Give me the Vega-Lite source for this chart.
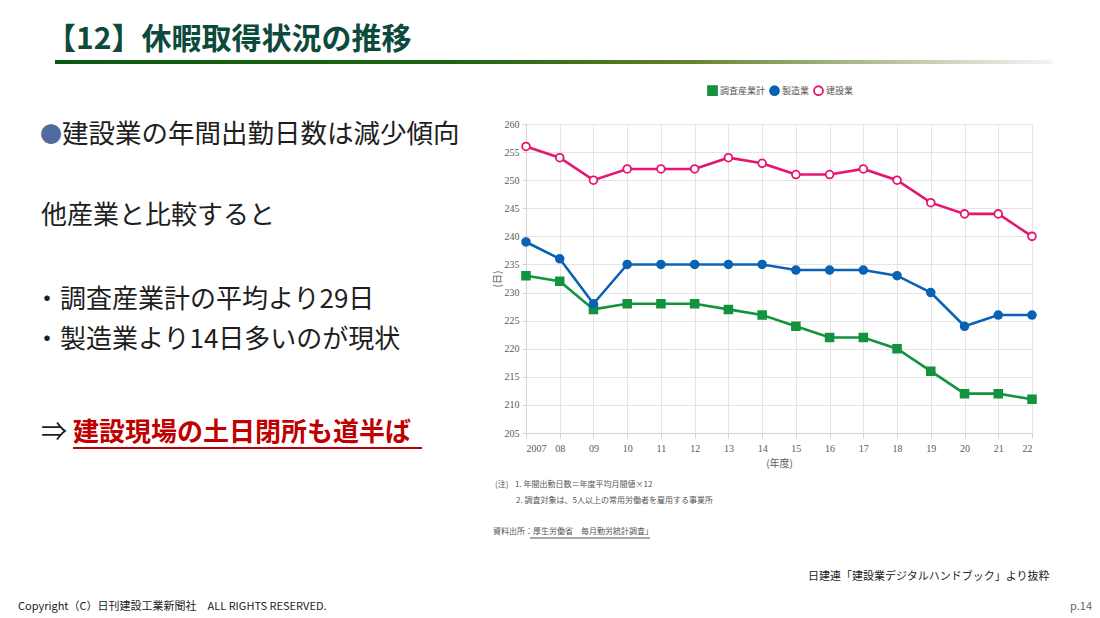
{
  "$schema": "https://vega.github.io/schema/vega-lite/v6.json",
  "background": "white",
  "padding": 0,
  "spacing": 0,
  "bounds": "flush",
  "center": true,
  "config": {
    "view": {"stroke": null},
    "font": "Noto Sans CJK JP",
    "concat": {"spacing": 0}
  },
  "hconcat": [
    {
      "width": 526,
      "height": 557,
      "layer": [
        {
          "data": {"values": [{"text": "【12】休暇取得状況の推移"}]},
          "mark": {"type": "text", "align": "left", "baseline": "middle", "fontSize": 30, "fontWeight": "bold", "color": "#0c4a3c"},
          "encoding": {
            "x": {"datum": 46, "type": "quantitative", "scale": {"domain": [0, 526], "nice": false, "zero": false}, "axis": null},
            "y": {"datum": 40, "type": "quantitative", "scale": {"domain": [0, 557], "nice": false, "zero": false, "reverse": true}, "axis": null},
            "text": {"field": "text"}
          }
        },
        {
          "data": {"values": [{"bar": "title underline"}]},
          "mark": {
            "type": "rect",
            "fill": {
              "gradient": "linear",
              "x1": 0, "y1": 0, "x2": 1, "y2": 0,
              "stops": [
                {"offset": 0, "color": "#0b5a12"},
                {"offset": 0.4, "color": "#1f6414"},
                {"offset": 0.62, "color": "#5f7d25"},
                {"offset": 0.8, "color": "#a9b98a"},
                {"offset": 1, "color": "#f4f4f4"}
              ]
            }
          },
          "encoding": {
            "x": {"datum": 55, "type": "quantitative"},
            "x2": {"datum": 1052},
            "y": {"datum": 60, "type": "quantitative"},
            "y2": {"datum": 64}
          }
        },
        {
          "data": {"values": [{"text": "●"}]},
          "mark": {"type": "text", "align": "left", "baseline": "middle", "fontSize": 22, "color": "#4f6c9c"},
          "encoding": {
            "x": {"datum": 40, "type": "quantitative"},
            "y": {"datum": 135, "type": "quantitative"},
            "text": {"field": "text"}
          }
        },
        {
          "data": {"values": [{"text": "建設業の年間出勤日数は減少傾向"}]},
          "mark": {"type": "text", "align": "left", "baseline": "middle", "fontSize": 26.5, "color": "#1e1e1e"},
          "encoding": {
            "x": {"datum": 62, "type": "quantitative"},
            "y": {"datum": 135, "type": "quantitative"},
            "text": {"field": "text"}
          }
        },
        {
          "data": {"values": [{"text": "他産業と比較すると"}]},
          "mark": {"type": "text", "align": "left", "baseline": "middle", "fontSize": 26, "color": "#1e1e1e"},
          "encoding": {
            "x": {"datum": 41, "type": "quantitative"},
            "y": {"datum": 216, "type": "quantitative"},
            "text": {"field": "text"}
          }
        },
        {
          "data": {"values": [{"text": "・調査産業計の平均より29日"}]},
          "mark": {"type": "text", "align": "left", "baseline": "middle", "fontSize": 26, "color": "#1e1e1e"},
          "encoding": {
            "x": {"datum": 34, "type": "quantitative"},
            "y": {"datum": 300, "type": "quantitative"},
            "text": {"field": "text"}
          }
        },
        {
          "data": {"values": [{"text": "・製造業より14日多いのが現状"}]},
          "mark": {"type": "text", "align": "left", "baseline": "middle", "fontSize": 26, "color": "#1e1e1e"},
          "encoding": {
            "x": {"datum": 34, "type": "quantitative"},
            "y": {"datum": 340, "type": "quantitative"},
            "text": {"field": "text"}
          }
        },
        {
          "data": {"values": [{"text": "⇒"}]},
          "mark": {"type": "text", "align": "left", "baseline": "middle", "fontSize": 26, "color": "#1e1e1e"},
          "encoding": {
            "x": {"datum": 41, "type": "quantitative"},
            "y": {"datum": 433, "type": "quantitative"},
            "text": {"field": "text"}
          }
        },
        {
          "data": {"values": [{"text": "建設現場の土日閉所も道半ば"}]},
          "mark": {"type": "text", "align": "left", "baseline": "middle", "fontSize": 26, "fontWeight": "bold", "color": "#c00000"},
          "encoding": {
            "x": {"datum": 73, "type": "quantitative"},
            "y": {"datum": 433, "type": "quantitative"},
            "text": {"field": "text"}
          }
        },
        {
          "data": {"values": [{"line": "underline"}]},
          "mark": {"type": "rule", "color": "#c00000", "strokeWidth": 2},
          "encoding": {
            "x": {"datum": 73, "type": "quantitative"},
            "x2": {"datum": 422},
            "y": {"datum": 448, "type": "quantitative"}
          }
        },
        {
          "data": {"values": [{"text": "(注)"}]},
          "mark": {"type": "text", "align": "left", "baseline": "middle", "fontSize": 8, "color": "#555555"},
          "encoding": {
            "x": {"datum": 495, "type": "quantitative"},
            "y": {"datum": 485, "type": "quantitative"},
            "text": {"field": "text"}
          }
        },
        {
          "data": {"values": [{"text": "1. 年間出勤日数＝年度平均月間値×12"}]},
          "mark": {"type": "text", "align": "left", "baseline": "middle", "fontSize": 8, "color": "#555555"},
          "encoding": {
            "x": {"datum": 515, "type": "quantitative"},
            "y": {"datum": 485, "type": "quantitative"},
            "text": {"field": "text"}
          }
        },
        {
          "data": {"values": [{"text": "2. 調査対象は、5人以上の常用労働者を雇用する事業所"}]},
          "mark": {"type": "text", "align": "left", "baseline": "middle", "fontSize": 8, "color": "#555555"},
          "encoding": {
            "x": {"datum": 516, "type": "quantitative"},
            "y": {"datum": 501, "type": "quantitative"},
            "text": {"field": "text"}
          }
        },
        {
          "data": {"values": [{"text": "資料出所：厚生労働省　毎月勤労統計調査」"}]},
          "mark": {"type": "text", "align": "left", "baseline": "middle", "fontSize": 8, "color": "#555555"},
          "encoding": {
            "x": {"datum": 493, "type": "quantitative"},
            "y": {"datum": 532, "type": "quantitative"},
            "text": {"field": "text"}
          }
        },
        {
          "data": {"values": [{"line": "source underline"}]},
          "mark": {"type": "rule", "color": "#555555", "strokeWidth": 1},
          "encoding": {
            "x": {"datum": 530, "type": "quantitative"},
            "x2": {"datum": 650},
            "y": {"datum": 538, "type": "quantitative"}
          }
        },
        {
          "data": {"values": [{"text": "日建連「建設業デジタルハンドブック」より抜粋"}]},
          "mark": {"type": "text", "align": "left", "baseline": "middle", "fontSize": 11, "color": "#222222"},
          "encoding": {
            "x": {"datum": 808, "type": "quantitative"},
            "y": {"datum": 577, "type": "quantitative"},
            "text": {"field": "text"}
          }
        },
        {
          "data": {"values": [{"text": "Copyright（C）日刊建設工業新聞社　ALL RIGHTS RESERVED."}]},
          "mark": {"type": "text", "align": "left", "baseline": "middle", "fontSize": 11, "color": "#222222"},
          "encoding": {
            "x": {"datum": 18, "type": "quantitative"},
            "y": {"datum": 607, "type": "quantitative"},
            "text": {"field": "text"}
          }
        },
        {
          "data": {"values": [{"text": "p.14"}]},
          "mark": {"type": "text", "align": "right", "baseline": "middle", "fontSize": 11, "color": "#666666"},
          "encoding": {
            "x": {"datum": 1092, "type": "quantitative"},
            "y": {"datum": 607, "type": "quantitative"},
            "text": {"field": "text"}
          }
        }
      ]
    },
    {
      "width": 506,
      "height": 309,
      "data": {
        "values": [
          {"year": 2007, "series": "調査産業計", "days": 233},
          {"year": 2008, "series": "調査産業計", "days": 232},
          {"year": 2009, "series": "調査産業計", "days": 227},
          {"year": 2010, "series": "調査産業計", "days": 228},
          {"year": 2011, "series": "調査産業計", "days": 228},
          {"year": 2012, "series": "調査産業計", "days": 228},
          {"year": 2013, "series": "調査産業計", "days": 227},
          {"year": 2014, "series": "調査産業計", "days": 226},
          {"year": 2015, "series": "調査産業計", "days": 224},
          {"year": 2016, "series": "調査産業計", "days": 222},
          {"year": 2017, "series": "調査産業計", "days": 222},
          {"year": 2018, "series": "調査産業計", "days": 220},
          {"year": 2019, "series": "調査産業計", "days": 216},
          {"year": 2020, "series": "調査産業計", "days": 212},
          {"year": 2021, "series": "調査産業計", "days": 212},
          {"year": 2022, "series": "調査産業計", "days": 211},
          {"year": 2007, "series": "製造業", "days": 239},
          {"year": 2008, "series": "製造業", "days": 236},
          {"year": 2009, "series": "製造業", "days": 228},
          {"year": 2010, "series": "製造業", "days": 235},
          {"year": 2011, "series": "製造業", "days": 235},
          {"year": 2012, "series": "製造業", "days": 235},
          {"year": 2013, "series": "製造業", "days": 235},
          {"year": 2014, "series": "製造業", "days": 235},
          {"year": 2015, "series": "製造業", "days": 234},
          {"year": 2016, "series": "製造業", "days": 234},
          {"year": 2017, "series": "製造業", "days": 234},
          {"year": 2018, "series": "製造業", "days": 233},
          {"year": 2019, "series": "製造業", "days": 230},
          {"year": 2020, "series": "製造業", "days": 224},
          {"year": 2021, "series": "製造業", "days": 226},
          {"year": 2022, "series": "製造業", "days": 226},
          {"year": 2007, "series": "建設業", "days": 256},
          {"year": 2008, "series": "建設業", "days": 254},
          {"year": 2009, "series": "建設業", "days": 250},
          {"year": 2010, "series": "建設業", "days": 252},
          {"year": 2011, "series": "建設業", "days": 252},
          {"year": 2012, "series": "建設業", "days": 252},
          {"year": 2013, "series": "建設業", "days": 254},
          {"year": 2014, "series": "建設業", "days": 253},
          {"year": 2015, "series": "建設業", "days": 251},
          {"year": 2016, "series": "建設業", "days": 251},
          {"year": 2017, "series": "建設業", "days": 252},
          {"year": 2018, "series": "建設業", "days": 250},
          {"year": 2019, "series": "建設業", "days": 246},
          {"year": 2020, "series": "建設業", "days": 244},
          {"year": 2021, "series": "建設業", "days": 244},
          {"year": 2022, "series": "建設業", "days": 240}
        ]
      },
      "encoding": {
        "x": {
          "field": "year", "type": "quantitative",
          "scale": {"domain": [2007, 2022], "nice": false, "zero": false},
          "axis": {
            "values": [2007, 2008, 2009, 2010, 2011, 2012, 2013, 2014, 2015, 2016, 2017, 2018, 2019, 2020, 2021, 2022],
            "labelExpr": "datum.value == 2007 ? '2007' : substring(toString(datum.value), 2)",
            "title": "(年度)",
            "grid": true, "gridColor": "#e4e4e4",
            "domainColor": "#d2d2d2", "tickColor": "#d2d2d2", "tickSize": 5,
            "labelPadding": 5, "labelFontSize": 10, "labelColor": "#5a5a5a", "labelFont": "Liberation Sans Narrow",
            "titleFontSize": 10, "titleFontWeight": "normal", "titleColor": "#5a5a5a", "titlePadding": 5
          }
        },
        "y": {
          "field": "days", "type": "quantitative",
          "scale": {"domain": [205, 260], "nice": false, "zero": false},
          "axis": {
            "values": [205, 210, 215, 220, 225, 230, 235, 240, 245, 250, 255, 260],
            "title": "(日)",
            "grid": true, "gridColor": "#e4e4e4",
            "domainColor": "#d2d2d2", "tickColor": "#d2d2d2", "tickSize": 4,
            "labelPadding": 3, "labelFontSize": 10, "labelColor": "#5a5a5a", "labelFont": "Liberation Sans Narrow",
            "titleFontSize": 10, "titleFontWeight": "normal", "titleColor": "#5a5a5a", "titlePadding": 2
          }
        }
      },
      "layer": [
        {
          "mark": {"type": "line", "strokeWidth": 2.6},
          "encoding": {
            "color": {
              "field": "series", "type": "nominal",
              "scale": {"domain": ["建設業", "製造業", "調査産業計"], "range": ["#e5166f", "#0b62b4", "#13923f"]},
              "legend": null
            }
          }
        },
        {
          "mark": {"type": "point", "size": 60, "strokeWidth": 1.8, "opacity": 1},
          "encoding": {
            "fill": {
              "field": "series", "type": "nominal",
              "scale": {"domain": ["調査産業計", "製造業", "建設業"], "range": ["#13923f", "#0b62b4", "#ffffff"]},
              "legend": {"orient": "none", "legendX": 707, "legendY": 85, "direction": "horizontal", "title": null, "labelFontSize": 9, "labelColor": "#555555", "symbolSize": 80, "symbolStrokeWidth": 1.8, "labelOffset": 2, "columnPadding": 0}
            },
            "stroke": {
              "field": "series", "type": "nominal",
              "scale": {"domain": ["調査産業計", "製造業", "建設業"], "range": ["#13923f", "#0b62b4", "#e5166f"]},
              "legend": {"orient": "none", "legendX": 707, "legendY": 85, "direction": "horizontal", "title": null, "labelFontSize": 9, "labelColor": "#555555", "symbolSize": 80, "symbolStrokeWidth": 1.8, "labelOffset": 2, "columnPadding": 0}
            },
            "shape": {
              "field": "series", "type": "nominal",
              "scale": {"domain": ["調査産業計", "製造業", "建設業"], "range": ["square", "circle", "circle"]},
              "legend": {"orient": "none", "legendX": 707, "legendY": 85, "direction": "horizontal", "title": null, "labelFontSize": 9, "labelColor": "#555555", "symbolSize": 80, "symbolStrokeWidth": 1.8, "labelOffset": 2, "columnPadding": 0}
            }
          }
        }
      ]
    }
  ]
}
